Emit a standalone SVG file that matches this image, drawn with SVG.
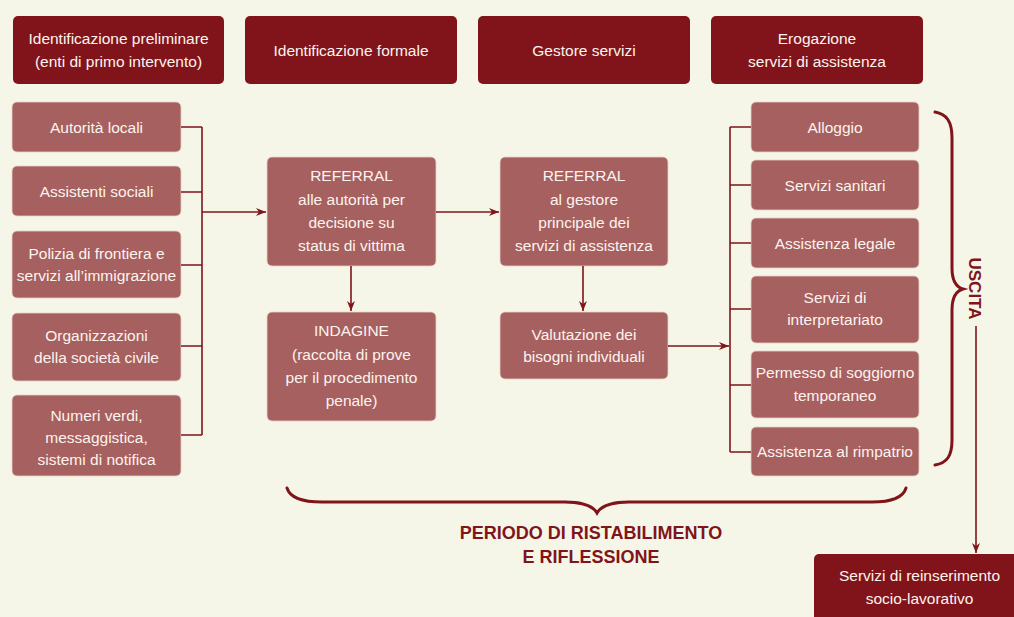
<svg xmlns="http://www.w3.org/2000/svg" width="1014" height="617" viewBox="0 0 1014 617">
<defs>
<style>
.bg{fill:#f6f6e8}
.hd{fill:#80141a}
.bx{fill:#a6605f;stroke:#e8d3c8;stroke-width:0.8}
.t{font-family:"Liberation Sans",Arial,sans-serif;font-size:15.5px;fill:#fdf3ee;text-anchor:middle}
.ln{fill:none;stroke:#80141a;stroke-width:1.6}
.br{fill:none;stroke:#80141a;stroke-width:3;stroke-linecap:round}
.lb{font-family:"Liberation Sans",Arial,sans-serif;font-weight:bold;fill:#80141a;text-anchor:middle}
</style>
<marker id="ah" viewBox="0 0 10 8" refX="10" refY="4" markerWidth="10" markerHeight="8" markerUnits="userSpaceOnUse" orient="auto">
<path d="M0,0 L10,4 L0,8 L3,4 z" fill="#80141a"/>
</marker>
</defs>
<rect class="bg" x="0" y="0" width="1014" height="617"/>

<g id="h1"><rect class="hd" x="13" y="16" width="211" height="68" rx="5"/><text class="t" x="118.5" y="44">Identificazione preliminare</text><text class="t" x="118.5" y="67">(enti di primo intervento)</text></g>
<g id="h2"><rect class="hd" x="245" y="16" width="212" height="68" rx="5"/><text class="t" x="351" y="55.5">Identificazione formale</text></g>
<g id="h3"><rect class="hd" x="478" y="16" width="212" height="68" rx="5"/><text class="t" x="584" y="55.5">Gestore servizi</text></g>
<g id="h4"><rect class="hd" x="711" y="16" width="212" height="68" rx="5"/><text class="t" x="817" y="44">Erogazione</text><text class="t" x="817" y="67">servizi di assistenza</text></g>

<g id="l1"><rect class="bx" x="12" y="102" width="169" height="50" rx="5"/><text class="t" x="96.5" y="132.5">Autorità locali</text></g>
<g id="l2"><rect class="bx" x="12" y="166" width="169" height="50" rx="5"/><text class="t" x="96.5" y="196.5">Assistenti sociali</text></g>
<g id="l3"><rect class="bx" x="12" y="231" width="169" height="67" rx="5"/><text class="t" x="96.5" y="259">Polizia di frontiera e</text><text class="t" x="96.5" y="281">servizi all’immigrazione</text></g>
<g id="l4"><rect class="bx" x="12" y="313" width="169" height="68" rx="5"/><text class="t" x="96.5" y="341">Organizzazioni</text><text class="t" x="96.5" y="363">della società civile</text></g>
<g id="l5"><rect class="bx" x="12" y="395" width="169" height="81" rx="5"/><text class="t" x="96.5" y="420.5">Numeri verdi,</text><text class="t" x="96.5" y="443">messaggistica,</text><text class="t" x="96.5" y="465">sistemi di notifica</text></g>

<g id="r1"><rect class="bx" x="267" y="157" width="169" height="109" rx="5"/><text class="t" x="351.5" y="181">REFERRAL</text><text class="t" x="351.5" y="205">alle autorità per</text><text class="t" x="351.5" y="228">decisione su</text><text class="t" x="351.5" y="251">status di vittima</text></g>
<g id="ind"><rect class="bx" x="267" y="312" width="169" height="109" rx="5"/><text class="t" x="351.5" y="336">INDAGINE</text><text class="t" x="351.5" y="360">(raccolta di prove</text><text class="t" x="351.5" y="383">per il procedimento</text><text class="t" x="351.5" y="406">penale)</text></g>
<g id="r2"><rect class="bx" x="500" y="157" width="168" height="109" rx="5"/><text class="t" x="584" y="181">REFERRAL</text><text class="t" x="584" y="205">al gestore</text><text class="t" x="584" y="228">principale dei</text><text class="t" x="584" y="251">servizi di assistenza</text></g>
<g id="val"><rect class="bx" x="500" y="312" width="168" height="67" rx="5"/><text class="t" x="584" y="340">Valutazione dei</text><text class="t" x="584" y="362">bisogni individuali</text></g>

<g id="s1"><rect class="bx" x="751" y="102" width="168" height="50" rx="5"/><text class="t" x="835" y="132.5">Alloggio</text></g>
<g id="s2"><rect class="bx" x="751" y="160" width="168" height="50" rx="5"/><text class="t" x="835" y="190.5">Servizi sanitari</text></g>
<g id="s3"><rect class="bx" x="751" y="218" width="168" height="50" rx="5"/><text class="t" x="835" y="248.5">Assistenza legale</text></g>
<g id="s4"><rect class="bx" x="751" y="276" width="168" height="67" rx="5"/><text class="t" x="835" y="302.5">Servizi di</text><text class="t" x="835" y="325">interpretariato</text></g>
<g id="s5"><rect class="bx" x="751" y="351" width="168" height="67" rx="5"/><text class="t" x="835" y="378">Permesso di soggiorno</text><text class="t" x="835" y="400.5">temporaneo</text></g>
<g id="s6"><rect class="bx" x="751" y="427" width="168" height="49" rx="5"/><text class="t" x="835" y="457">Assistenza al rimpatrio</text></g>

<g id="out"><rect class="hd" x="814" y="554" width="215" height="80" rx="5"/><text class="t" x="919.5" y="581">Servizi di reinserimento</text><text class="t" x="919.5" y="604">socio-lavorativo</text></g>

<g id="connectors">
<path class="ln" d="M181,127 H202 M181,192 H202 M181,265 H202 M181,346 H202 M181,435 H202 M202,127 V435"/>
<path class="ln" d="M202,212 H266" marker-end="url(#ah)"/>
<path class="ln" d="M436,212 H499" marker-end="url(#ah)"/>
<path class="ln" d="M351,266 V311" marker-end="url(#ah)"/>
<path class="ln" d="M583,266 V311" marker-end="url(#ah)"/>
<path class="ln" d="M668,346 H729" marker-end="url(#ah)"/>
<path class="ln" d="M751,127 H730 M751,185 H730 M751,243 H730 M751,309 H730 M751,385 H730 M751,452 H730 M730,127 V452"/>
<path class="ln" d="M976,326 V553" marker-end="url(#ah)"/>
</g>

<g id="brace-uscita">
<path class="br" d="M935,112 C947,114 952,122 952,138 L952,268 C952,281 956,287 963,289 C956,291 952,297 952,310 L952,440 C952,456 947,463 935,465"/>
<text class="lb" font-size="17" transform="translate(969,288.5) rotate(90)" x="0" y="0">USCITA</text>
</g>

<g id="brace-periodo">
<path class="br" d="M287,488 C290,498 302,502 322,502 L565,502 C584,502 593,506 597,513 C601,506 610,502 629,502 L872,502 C892,502 903,498 906,488"/>
<text class="lb" font-size="18" x="591" y="539">PERIODO DI RISTABILIMENTO</text>
<text class="lb" font-size="18" x="591" y="563">E RIFLESSIONE</text>
</g>
</svg>
